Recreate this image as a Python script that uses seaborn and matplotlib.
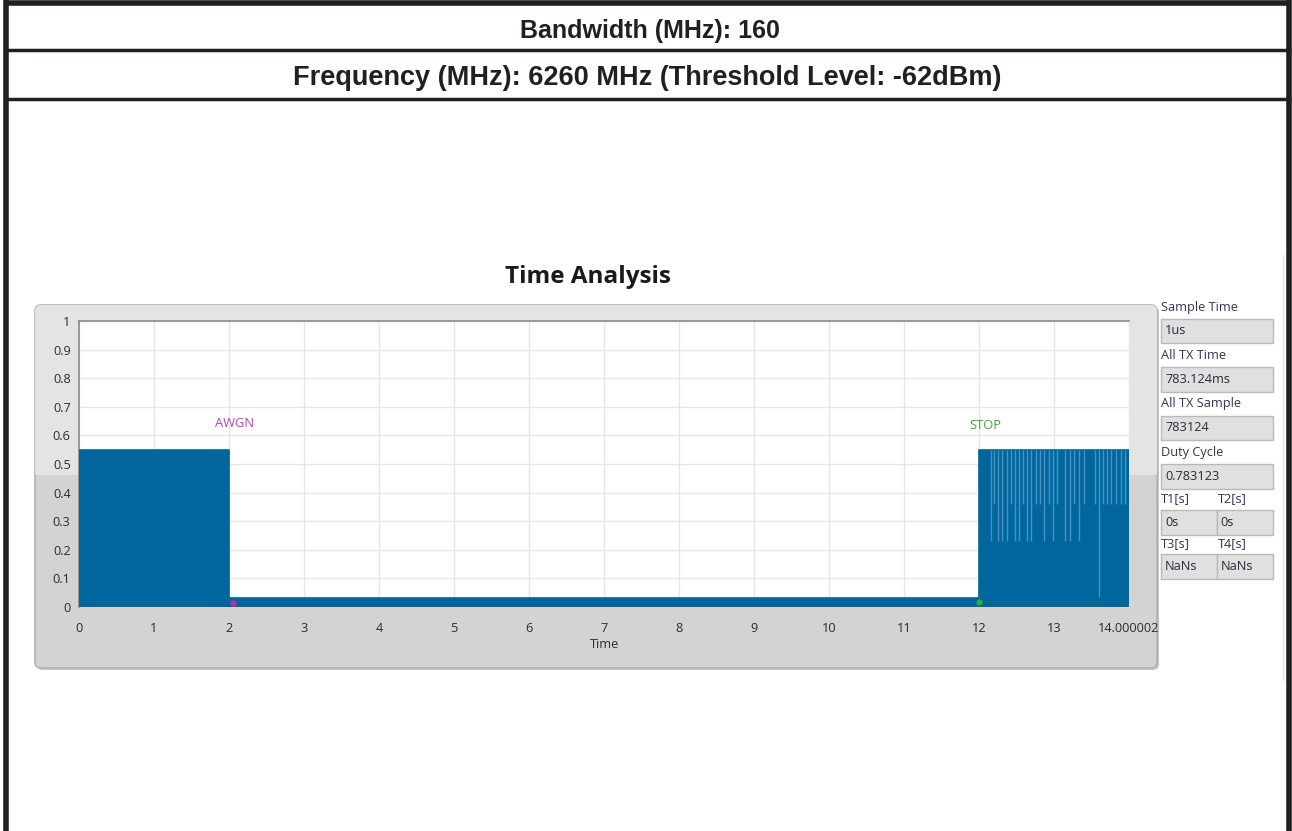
import numpy as np
import pandas as pd
import matplotlib
matplotlib.use("Agg")
import matplotlib.pyplot as plt
from matplotlib.patches import Rectangle, FancyBboxPatch
import seaborn as sns

# ---- signal description ----
segment_edges = [0.0, 2.0, 12.0, 14.000002]
segment_levels = [0.55, 0.03, 0.55]

# lighter dropout streaks inside the final burst (time, lower end)
streak_times = [12.156, 12.20, 12.257, 12.31, 12.369, 12.422, 12.48, 12.538,
                12.591, 12.644, 12.698, 12.756, 12.813, 12.867, 12.929, 12.982,
                13.036, 13.147, 13.213, 13.267, 13.329, 13.40, 13.551, 13.604,
                13.658, 13.711, 13.764, 13.827, 13.889, 13.951]
streak_bottoms = [0.23, 0.36, 0.23, 0.23, 0.23, 0.36, 0.23, 0.23,
                  0.36, 0.23, 0.23, 0.36, 0.36, 0.23, 0.36, 0.23,
                  0.36, 0.23, 0.23, 0.36, 0.23, 0.36, 0.36, 0.035,
                  0.36, 0.36, 0.36, 0.36, 0.36, 0.36]

marker_times = [2.05, 12.0]
marker_values = [0.013, 0.016]
marker_colors = ["#c0309a", "#2fb02f"]

event_labels = ["AWGN", "STOP"]
event_times = [2.07, 12.09]
event_values = [0.64, 0.635]
event_colors = ["#b044b0", "#3aa83a"]

x_ticks = list(range(0, 14)) + [14.000002]
x_tick_labels = [str(i) for i in range(0, 14)] + ["14.000002"]
y_ticks = [round(0.1 * i, 1) for i in range(11)]
y_tick_labels = ["0", "0.1", "0.2", "0.3", "0.4", "0.5", "0.6", "0.7", "0.8", "0.9", "1"]

header_lines = ["Bandwidth (MHz): 160",
                "Frequency (MHz): 6260 MHz (Threshold Level: -62dBm)"]

info_labels = ["Sample Time", "All TX Time", "All TX Sample", "Duty Cycle"]
info_values = ["1us", "783.124ms", "783124", "0.783123"]
pair_labels = [("T1[s]", "T2[s]"), ("T3[s]", "T4[s]")]
pair_values = [("0s", "0s"), ("NaNs", "NaNs")]

# ---- figure ----
sns.set_style("white")
W, H = 1292, 831
fig = plt.figure(figsize=(W / 100, H / 100), dpi=100)
fig.patch.set_facecolor("white")

bg = fig.add_axes([0, 0, 1, 1])
bg.set_xlim(0, W)
bg.set_ylim(H, 0)
bg.axis("off")

ui_font = ["Open Sans", "DejaVu Sans"]

# outer frame and header rows
ink = "#231f20"
bg.plot([5.5, 5.5], [0, H], color=ink, lw=4, solid_capstyle="butt")
bg.plot([1289, 1289], [0, H], color=ink, lw=4, solid_capstyle="butt")
bg.plot([3.5, 1291], [2.5, 2.5], color=ink, lw=4, solid_capstyle="butt")
bg.plot([3.5, 1291], [50, 50], color=ink, lw=2.5, solid_capstyle="butt")
bg.plot([3.5, 1291], [99, 99], color=ink, lw=2.5, solid_capstyle="butt")
hfont = dict(family=["Liberation Sans", "DejaVu Sans"], weight="bold",
             color=ink, ha="center", va="center")
bg.text(650, 31, header_lines[0], fontsize=18, **hfont)
bg.text(647, 78, header_lines[1], fontsize=19.5, **hfont)

# faint separator on the right
bg.plot([1283, 1283], [255, 680], color="#e2e2e2", lw=1)

# graph panel
px0, py0, px1, py1 = 35, 305, 1157, 668
shadow = FancyBboxPatch((px0 + 2, py0 + 2), px1 - px0, py1 - py0,
                        boxstyle="round,pad=0,rounding_size=6",
                        fc="#c4c4c4", ec="none")
bg.add_patch(shadow)
panel = FancyBboxPatch((px0, py0), px1 - px0, py1 - py0,
                       boxstyle="round,pad=0,rounding_size=6",
                       fc="#d3d3d3", ec="#b2b2b2", lw=1.2)
bg.add_patch(panel)
upper = Rectangle((px0, py0), px1 - px0, 475 - py0, fc="#e4e4e4", ec="none")
bg.add_patch(upper)
upper.set_clip_path(panel)

bg.text(588, 277, "Time Analysis", family=ui_font,
        weight="bold", fontsize=17.5, color="#1a1a1a", ha="center", va="center")

# info boxes
lab_font = dict(family=ui_font, fontsize=9.2,
                color="#3a3052", va="center", ha="left")
val_font = dict(family=ui_font, fontsize=9.2,
                color="#2a2a38", va="center", ha="left")
bx0, bx1, bh = 1161, 1273, 24.5
for i, (lab, val) in enumerate(zip(info_labels, info_values)):
    ty = 307 + 48.5 * i
    by = 318.5 + 48.5 * i
    bg.text(bx0, ty, lab, **lab_font)
    bg.add_patch(Rectangle((bx0, by), bx1 - bx0, bh, fc="#e0e0e0",
                           ec="#b9b9b9", lw=1))
    bg.text(bx0 + 4, by + bh / 2, val, **val_font)
split = 1216.5
for j, ((la, lb), (va, vb)) in enumerate(zip(pair_labels, pair_values)):
    ty = 499 + 44.5 * j
    by = 510 + 43.5 * j
    bg.text(bx0, ty, la, **lab_font)
    bg.text(split + 1, ty, lb, **lab_font)
    bg.add_patch(Rectangle((bx0, by), split - bx0, bh + 0.5, fc="#e0e0e0",
                           ec="#b9b9b9", lw=1))
    bg.add_patch(Rectangle((split, by), bx1 - split, bh + 0.5, fc="#e0e0e0",
                           ec="#b9b9b9", lw=1))
    bg.text(bx0 + 4, by + bh / 2 + 0.5, va, **val_font)
    bg.text(split + 4, by + bh / 2 + 0.5, vb, **val_font)

# ---- plot area ----
ax_l, ax_r, ax_t, ax_b = 79, 1129, 321, 607
ax = fig.add_axes([ax_l / W, 1 - ax_b / H, (ax_r - ax_l) / W, (ax_b - ax_t) / H])
ax.set_facecolor("white")

edges = np.array(segment_edges)
levels = np.array(segment_levels)
df = pd.DataFrame({
    "time": np.repeat(edges, 2)[1:-1],
    "level": np.repeat(levels, 2),
})
blue = "#00669b"
ax.fill_between(df["time"], 0, df["level"], color=blue, lw=0, zorder=3)
sns.lineplot(data=df, x="time", y="level", color=blue, lw=1.2,
             estimator=None, sort=False, ax=ax, zorder=4)

ax.vlines(streak_times, streak_bottoms, segment_levels[-1],
          color="#4792c4", lw=1.0, zorder=5)

for t, v, c in zip(marker_times, marker_values, marker_colors):
    ax.plot(t, v, marker="o", ms=3.5, color=c, zorder=6, clip_on=False)
for lab, t, v, c in zip(event_labels, event_times, event_values, event_colors):
    ax.text(t, v, lab, color=c, fontsize=9.3, family=ui_font,
            ha="center", va="center", zorder=6)

ax.set_xlim(0, 14.000002)
ax.set_ylim(0, 1)
ax.set_xticks(x_ticks)
ax.set_xticklabels(x_tick_labels)
ax.set_yticks(y_ticks)
ax.set_yticklabels(y_tick_labels)
ax.grid(True, color="#e6e6e6", lw=1)
ax.set_axisbelow(True)

for side in ["right", "bottom"]:
    ax.spines[side].set_visible(False)
for side in ["left", "top"]:
    ax.spines[side].set_color("#8a8a8a")
    ax.spines[side].set_linewidth(1.2)
ax.spines["bottom"].set_position(("outward", 5))

ax.tick_params(axis="x", direction="out", length=4, width=1, color="#505050",
               pad=2, labelcolor="#2c2c2c")
ax.tick_params(axis="y", direction="out", length=4, width=1, color="#505050",
               pad=2, labelcolor="#2c2c2c")
for lab in ax.get_xticklabels() + ax.get_yticklabels():
    lab.set_fontfamily(ui_font)
    lab.set_fontsize(9.2)

ax.set_xlabel("Time", family=ui_font, fontsize=9.2,
              color="#2c2c2c", labelpad=2)
ax.set_ylabel("")

fig.savefig("out.png", dpi=100, facecolor="white")
